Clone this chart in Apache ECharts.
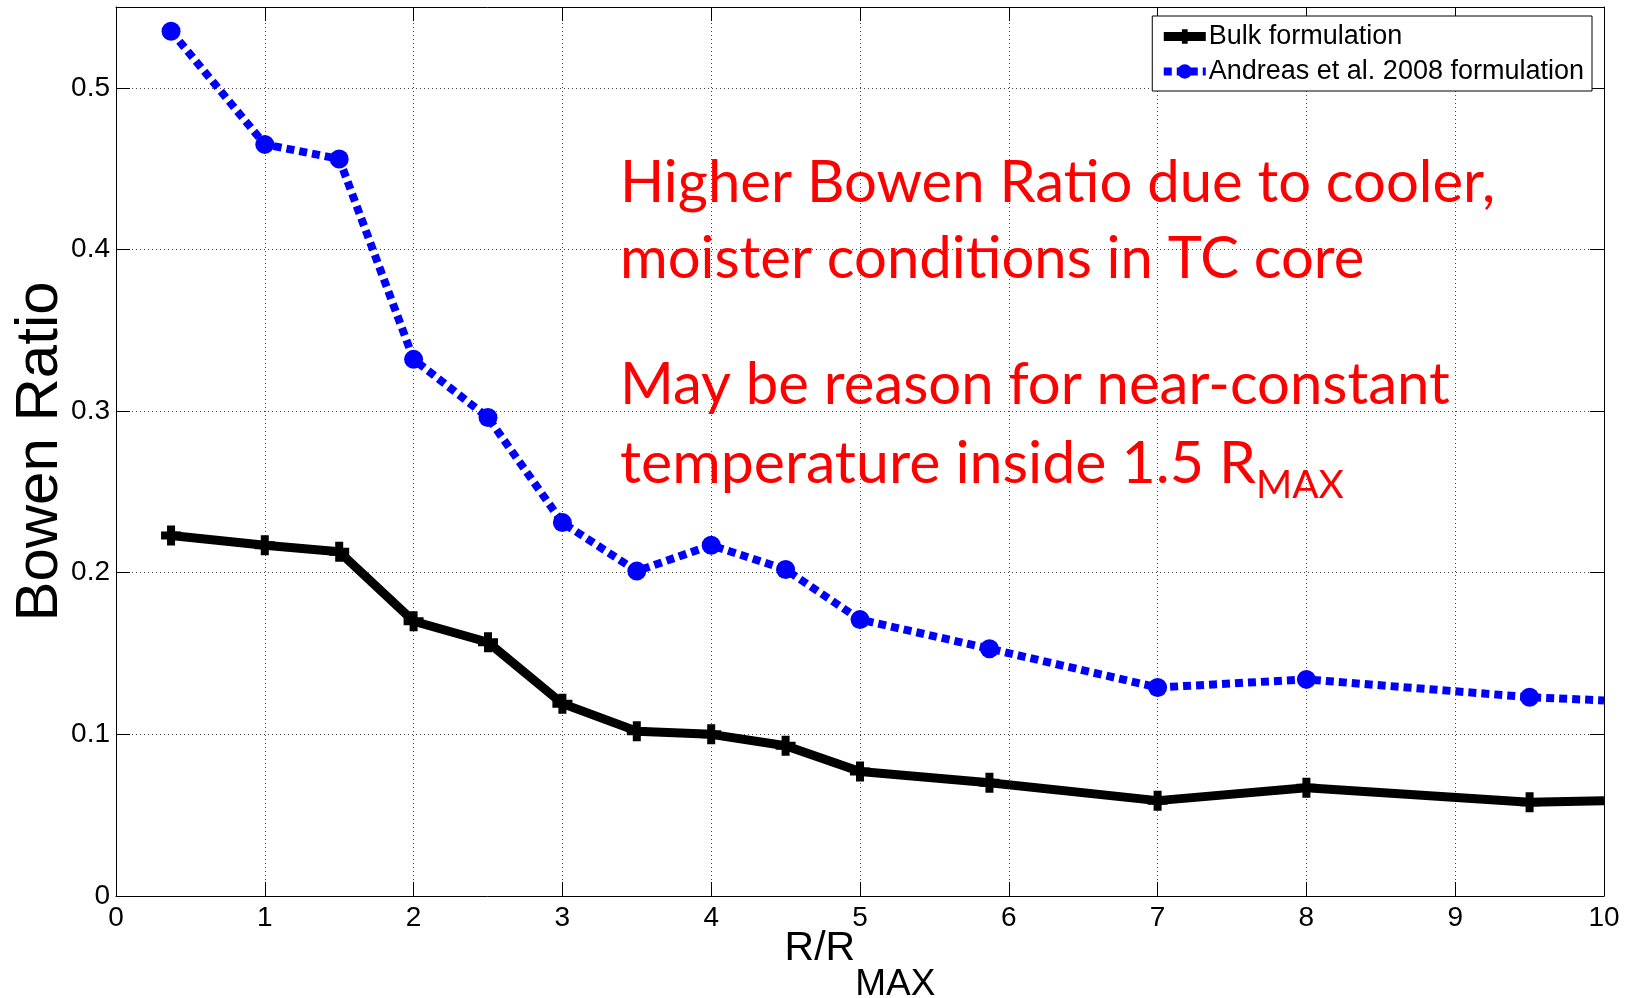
<!DOCTYPE html>
<html>
<head>
<meta charset="utf-8">
<script src="https://cdn.jsdelivr.net/npm/echarts@6/dist/echarts.min.js"></script>
<style>html,body{margin:0;padding:0;background:#fff;}#c{width:1626px;height:998px;}</style>
</head>
<body>
<div id="c"></div>
<script>
// Data
const radius = [0.37, 1, 1.5, 2, 2.5, 3, 3.5, 4, 4.5, 5, 5.87, 7, 8, 9.5, 10];
const bulk = [0.223, 0.217, 0.213, 0.170, 0.157, 0.119, 0.102, 0.100, 0.093, 0.077, 0.070, 0.059, 0.067, 0.058, 0.059];
const andreas = [0.535, 0.465, 0.456, 0.332, 0.296, 0.231, 0.201, 0.217, 0.202, 0.171, 0.153, 0.129, 0.134, 0.123, 0.121];
const seriesNames = ['Bulk formulation', 'Andreas et al. 2008 formulation'];
const xTicks = [0, 1, 2, 3, 4, 5, 6, 7, 8, 9, 10];
const yTicks = [0, 0.1, 0.2, 0.3, 0.4, 0.5];

function pts(ys) {
  return radius.map((x, i) => {
    const item = { value: [x, ys[i]] };
    if (i === radius.length - 1) item.symbol = 'none';
    return item;
  });
}

const FONT = 'Liberation Sans, Arial, sans-serif';
const RED_FONT = 'Lato, sans-serif';
const plusPath = 'path://M3,0H7V3H10V7H7V10H3V7H0V3H3Z';

const baseX = {
  type: 'value', min: 0, max: 10, interval: 1,
  axisLine: { show: true, onZero: false, lineStyle: { color: '#000', width: 1 } },
  axisTick: { show: true, inside: true, length: 14, lineStyle: { color: '#000' } },
};
const baseY = {
  type: 'value', min: 0, max: 0.55, interval: 0.1,
  axisLine: { show: true, onZero: false, lineStyle: { color: '#000', width: 1 } },
  axisTick: { show: true, inside: true, length: 14, lineStyle: { color: '#000' } },
};

const chart = echarts.init(document.getElementById('c'), null, { renderer: 'canvas' });
chart.setOption({
  animation: false,
  backgroundColor: '#fff',
  grid: { left: 116, right: 22, top: 7, bottom: 102, containLabel: false, outerBoundsMode: 'none' },
  legend: {
    orient: 'vertical',
    right: 34, top: 16,
    data: [
      { name: seriesNames[0], lineStyle: { width: 9, color: '#000' }, itemStyle: { color: '#000' } },
      { name: seriesNames[1], lineStyle: { width: 8, color: '#0000ff', type: [8, 5] }, itemStyle: { color: '#0000ff' } }
    ],
    backgroundColor: '#fff',
    borderColor: '#000', borderWidth: 1,
    padding: [7, 8, 6, 7],
    itemWidth: 42, itemHeight: 18, itemGap: 8,
    textStyle: { fontFamily: FONT, fontSize: 27, color: '#000', padding: [0, 0, 0, -2] }
  },
  xAxis: [
    Object.assign({}, baseX, {
      position: 'bottom',
      name: '{a|R/R}{s|MAX}',
      nameLocation: 'middle', nameGap: 32, nameMoveOverlap: false,
      nameTextStyle: {
        rich: {
          a: { fontFamily: FONT, fontSize: 41, lineHeight: 41, color: '#000', verticalAlign: 'top' },
          s: { fontFamily: FONT, fontSize: 37, lineHeight: 37, color: '#000', verticalAlign: 'top', padding: [38, 0, 0, 0] }
        }
      },
      axisLabel: {
        show: true, margin: 8, fontFamily: FONT, fontSize: 28, color: '#000',
        customValues: xTicks
      },
      splitLine: { show: true, lineStyle: { color: '#444', width: 1, type: [1, 3] } }
    }),
    Object.assign({}, baseX, {
      position: 'top',
      axisLabel: { show: false },
      splitLine: { show: false }
    })
  ],
  yAxis: [
    Object.assign({}, baseY, {
      position: 'left',
      name: 'Bowen Ratio',
      nameLocation: 'middle', nameGap: 46, nameRotate: 90, nameMoveOverlap: false,
      nameTextStyle: { fontFamily: FONT, fontSize: 60, color: '#000' },
      axisLabel: {
        show: true, margin: 6, fontFamily: FONT, fontSize: 28, color: '#000',
        customValues: yTicks,
        formatter: v => String(Math.round(v * 10) / 10)
      },
      splitLine: { show: true, lineStyle: { color: '#444', width: 1, type: [1, 3] } }
    }),
    Object.assign({}, baseY, {
      position: 'right',
      axisLabel: { show: false },
      splitLine: { show: false }
    })
  ],
  series: [
    {
      name: seriesNames[0], type: 'line', xAxisIndex: 0, yAxisIndex: 0,
      data: pts(bulk),
      symbol: plusPath, symbolSize: 20, showAllSymbol: true,
      itemStyle: { color: '#000' },
      lineStyle: { color: '#000', width: 9, join: 'round' },
      z: 3
    },
    {
      name: seriesNames[1], type: 'line', xAxisIndex: 0, yAxisIndex: 0,
      data: pts(andreas),
      symbol: 'circle', symbolSize: 19, showAllSymbol: true,
      itemStyle: { color: '#0000ff' },
      lineStyle: { color: '#0000ff', width: 8, type: [8, 5], cap: 'butt' },
      z: 4
    }
  ],
  graphic: [
    { type: 'text', left: 620, top: 154, z: 10,
      style: { text: 'Higher Bowen Ratio due to cooler,', font: '58px Lato, sans-serif', fill: '#ff0000' } },
    { type: 'text', left: 620, top: 230, z: 10,
      style: { text: 'moister conditions in TC core', font: '58px Lato, sans-serif', fill: '#ff0000' } },
    { type: 'text', left: 620, top: 356, z: 10,
      style: { text: 'May be reason for near-constant', font: '58px Lato, sans-serif', fill: '#ff0000' } },
    { type: 'text', left: 620, top: 434, z: 10,
      style: {
        text: '{n|temperature inside 1.5 R}{s|MAX}',
        rich: {
          n: { fontFamily: RED_FONT, fontSize: 59, lineHeight: 59, fill: '#ff0000', verticalAlign: 'top' },
          s: { fontFamily: RED_FONT, fontSize: 39, lineHeight: 39, fill: '#ff0000', verticalAlign: 'top', padding: [32, 0, 0, 0] }
        }
      } }
  ]
});
</script>
</body>
</html>
